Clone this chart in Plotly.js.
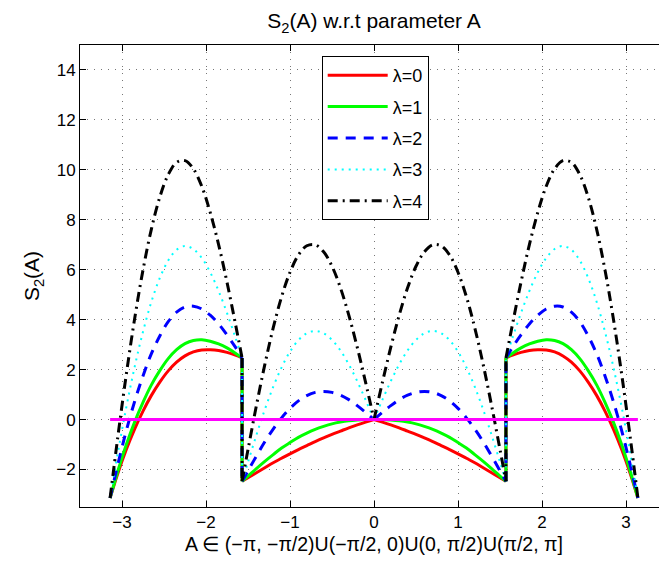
<!DOCTYPE html>
<html>
<head>
<meta charset="utf-8">
<script src="https://cdn.plot.ly/plotly-3.0.1.min.js"></script>
<style>
  html, body { margin: 0; padding: 0; overflow: hidden; background: #fff; }
  #chart { width: 680px; height: 564px; }
</style>
</head>
<body>
<div id="chart"></div>
<script>
// Parameter A over (-pi, -pi/2) U (-pi/2, 0) U (0, pi/2) U (pi/2, pi]
const A = [
  -3.1416, -3.05, -2.95, -2.85, -2.75, -2.65, -2.55, -2.45, -2.35, -2.25, -2.15, -2.05, -1.95, -1.85, -1.75, -1.65, -1.5709,
  -1.5707, -1.5, -1.4, -1.3, -1.2, -1.1, -1.0, -0.9, -0.8, -0.7, -0.6, -0.5, -0.4, -0.3, -0.2, -0.1, 0,
  0.1, 0.2, 0.3, 0.4, 0.5, 0.6, 0.7, 0.8, 0.9, 1.0, 1.1, 1.2, 1.3, 1.4, 1.5, 1.5707,
  1.5709, 1.65, 1.75, 1.85, 1.95, 2.05, 2.15, 2.25, 2.35, 2.45, 2.55, 2.65, 2.75, 2.85, 2.95, 3.05, 3.1416
];

// S2(A) for lambda = 0 .. 4
const S2_lambda0 = [
  -3.14, -2.16, -1.21, -0.38, 0.34, 0.97, 1.50, 1.95, 2.30, 2.55, 2.71, 2.79, 2.80, 2.77, 2.69, 2.58, 2.47,
  -2.47, -2.33, -2.13, -1.93, -1.73, -1.55, -1.37, -1.20, -1.04, -0.88, -0.73, -0.59, -0.46, -0.33, -0.21, -0.10, 0,
  -0.10, -0.21, -0.33, -0.46, -0.59, -0.73, -0.88, -1.04, -1.20, -1.37, -1.55, -1.73, -1.93, -2.13, -2.33, -2.47,
  2.47, 2.58, 2.69, 2.77, 2.80, 2.79, 2.71, 2.55, 2.30, 1.95, 1.50, 0.97, 0.34, -0.38, -1.21, -2.16, -3.14
];
const S2_lambda1 = [
  -3.14, -2.07, -1.02, -0.10, 0.69, 1.39, 1.96, 2.44, 2.80, 3.04, 3.17, 3.20, 3.14, 3.03, 2.87, 2.66, 2.47,
  -2.47, -2.26, -1.96, -1.67, -1.40, -1.14, -0.92, -0.71, -0.54, -0.39, -0.27, -0.17, -0.10, -0.05, -0.02, 0.00, 0,
  0.00, -0.02, -0.05, -0.10, -0.17, -0.27, -0.39, -0.54, -0.71, -0.92, -1.14, -1.40, -1.67, -1.96, -2.26, -2.47,
  2.47, 2.66, 2.87, 3.03, 3.14, 3.20, 3.17, 3.04, 2.80, 2.44, 1.96, 1.39, 0.69, -0.10, -1.02, -2.07, -3.14
];
const S2_lambda2 = [
  -3.14, -1.80, -0.46, 0.72, 1.75, 2.64, 3.35, 3.92, 4.30, 4.51, 4.54, 4.43, 4.18, 3.83, 3.39, 2.90, 2.47,
  -2.47, -2.05, -1.46, -0.89, -0.38, 0.07, 0.45, 0.75, 0.96, 1.09, 1.13, 1.09, 0.98, 0.80, 0.56, 0.29, 0,
  0.29, 0.56, 0.80, 0.98, 1.09, 1.13, 1.09, 0.96, 0.75, 0.45, 0.07, -0.38, -0.89, -1.46, -2.05, -2.47,
  2.47, 2.90, 3.39, 3.83, 4.18, 4.43, 4.54, 4.51, 4.30, 3.92, 3.35, 2.64, 1.75, 0.72, -0.46, -1.80, -3.14
];
const S2_lambda3 = [
  -3.14, -1.34, 0.47, 2.10, 3.52, 4.72, 5.67, 6.37, 6.80, 6.95, 6.83, 6.47, 5.90, 5.15, 4.27, 3.29, 2.47,
  -2.47, -1.70, -0.62, 0.40, 1.31, 2.09, 2.72, 3.18, 3.46, 3.55, 3.46, 3.19, 2.77, 2.21, 1.54, 0.79, 0,
  0.79, 1.54, 2.21, 2.77, 3.19, 3.46, 3.55, 3.46, 3.18, 2.72, 2.09, 1.31, 0.40, -0.62, -1.70, -2.47,
  2.47, 3.29, 4.27, 5.15, 5.90, 6.47, 6.83, 6.95, 6.80, 6.37, 5.67, 4.72, 3.52, 2.10, 0.47, -1.34, -3.14
];
const S2_lambda4 = [
  -3.14, -0.70, 1.78, 4.03, 5.99, 7.63, 8.91, 9.81, 10.30, 10.37, 10.04, 9.34, 8.30, 7.01, 5.50, 3.84, 2.47,
  -2.47, -1.20, 0.56, 2.20, 3.67, 4.92, 5.90, 6.59, 6.96, 7.00, 6.72, 6.14, 5.28, 4.18, 2.90, 1.49, 0,
  1.49, 2.90, 4.18, 5.28, 6.14, 6.72, 7.00, 6.96, 6.59, 5.90, 4.92, 3.67, 2.20, 0.56, -1.20, -2.47,
  2.47, 3.84, 5.50, 7.01, 8.30, 9.34, 10.04, 10.37, 10.30, 9.81, 8.91, 7.63, 5.99, 4.03, 1.78, -0.70, -3.14
];

const seriesNames = ['λ=0', 'λ=1', 'λ=2', 'λ=3', 'λ=4'];
const seriesValues = [S2_lambda0, S2_lambda1, S2_lambda2, S2_lambda3, S2_lambda4];

// Reference line S2 = 0 over [-pi, pi]
const zeroLineA = [-3.1416, 3.1416];
const zeroLineS = [0, 0];

const lineStyles = [
  { color: '#ff0000', width: 3, dash: 'solid' },
  { color: '#00ff00', width: 3, dash: 'solid' },
  { color: '#0000ff', width: 3, dash: '10px,8px' },
  { color: '#00ffff', width: 2, dash: '2px,5px' },
  { color: '#000000', width: 3, dash: '10px,5px,2px,5px' }
];

// Split a curve into smooth pieces at the jumps (A = +-pi/2) and at the cusp (A = 0);
// the jumps themselves are drawn as straight connectors.
function splitPieces(x, y) {
  const pieces = [], jumps = [];
  let px = [], py = [];
  for (let i = 0; i < x.length; i++) {
    px.push(x[i]); py.push(y[i]);
    const last = i === x.length - 1;
    if (!last && x[i + 1] - x[i] < 0.001) {
      pieces.push({ x: px, y: py });
      jumps.push({ x: [x[i], x[i + 1]], y: [y[i], y[i + 1]] });
      px = []; py = [];
    } else if (!last && i > 0 && x[i] === 0) {
      pieces.push({ x: px, y: py });
      px = [x[i]]; py = [y[i]];
    }
  }
  pieces.push({ x: px, y: py });
  return { pieces, jumps };
}

const traces = [];
seriesValues.forEach((vals, k) => {
  const st = lineStyles[k];
  const parts = splitPieces(A, vals);
  parts.pieces.forEach((p, j) => {
    traces.push({
      x: p.x, y: p.y, type: 'scatter', mode: 'lines',
      name: seriesNames[k], legendgroup: 'g' + k, showlegend: j === 0,
      line: { color: st.color, width: st.width, dash: st.dash, shape: 'spline', smoothing: 1 },
      hoverinfo: 'skip'
    });
  });
  parts.jumps.forEach(p => {
    traces.push({
      x: p.x, y: p.y, type: 'scatter', mode: 'lines',
      name: seriesNames[k], legendgroup: 'g' + k, showlegend: false,
      line: { color: st.color, width: st.width, dash: st.dash },
      hoverinfo: 'skip'
    });
  });
});
traces.push({
  x: zeroLineA, y: zeroLineS, type: 'scatter', mode: 'lines',
  showlegend: false, line: { color: '#ff00ff', width: 3 }, hoverinfo: 'skip'
});

const fontFamily = '"Liberation Sans", Arial, Helvetica, sans-serif';

const axisCommon = {
  showline: true, linecolor: '#000', linewidth: 1, mirror: 'ticks',
  ticks: 'inside', ticklen: 6, tickwidth: 1, tickcolor: '#000',
  showgrid: true, gridcolor: '#777', gridwidth: 1, griddash: '1px,6px',
  zeroline: false, tickfont: { family: fontFamily, size: 17, color: '#000' }
};

const layout = {
  width: 680, height: 564,
  margin: { l: 80, r: 12, t: 45, b: 57 },
  paper_bgcolor: '#fff', plot_bgcolor: '#fff',
  font: { family: fontFamily, color: '#000' },
  title: {
    text: 'S<sub>2</sub>(A) w.r.t parameter A',
    font: { family: fontFamily, size: 21, color: '#000' },
    x: 0.5, xref: 'paper', y: 1 - 21 / 564, yref: 'container', yanchor: 'middle'
  },
  xaxis: Object.assign({}, axisCommon, {
    range: [-3.5, 3.5], dtick: 1, tick0: 0,
    title: { text: 'A ∈ (−π, −π/2)U(−π/2, 0)U(0, π/2)U(π/2, π]', font: { family: fontFamily, size: 19.5, color: '#000' }, standoff: 5 }
  }),
  yaxis: Object.assign({}, axisCommon, {
    range: [-3.5, 15], dtick: 2, tick0: 0,
    title: { text: 'S<sub>2</sub>(A)', font: { family: fontFamily, size: 21, color: '#000' }, standoff: 10 }
  }),
  legend: {
    x: (321.7 - 80) / 588, y: 1 - (56 - 45) / 462, xanchor: 'left', yanchor: 'top',
    bgcolor: '#fff', bordercolor: '#000', borderwidth: 1,
    font: { family: fontFamily, size: 18, color: '#000' },
    traceorder: 'grouped', tracegroupgap: 5, itemwidth: 60
  },
  showlegend: true
};

Plotly.newPlot('chart', traces, layout, { displayModeBar: false, staticPlot: true });
</script>
</body>
</html>
